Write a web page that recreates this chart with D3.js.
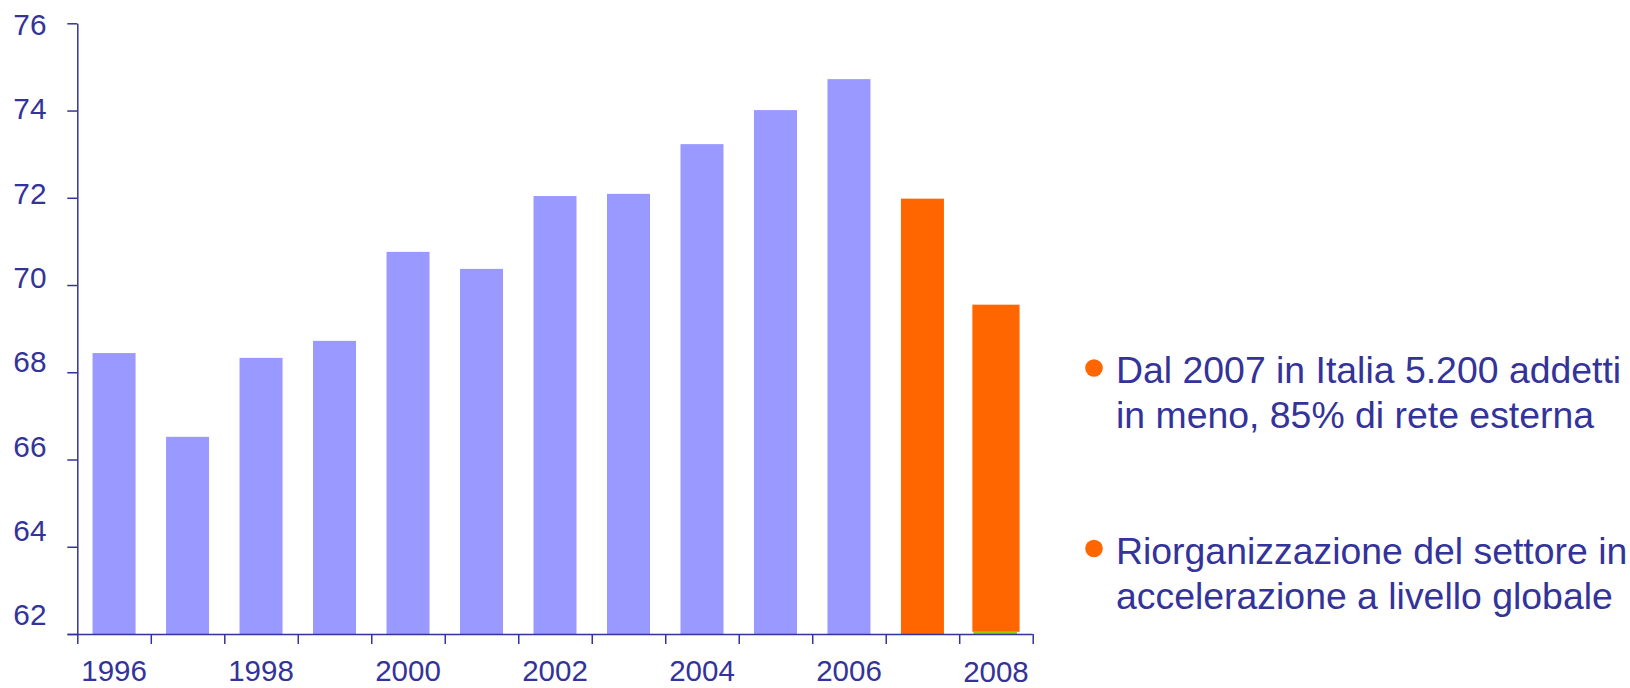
<!DOCTYPE html>
<html>
<head>
<meta charset="utf-8">
<script src="https://cdn.jsdelivr.net/npm/d3@7"></script>
<style>
  html, body { margin: 0; padding: 0; background: #ffffff; }
  svg { display: block; font-family: "Liberation Sans", Arial, sans-serif; }
</style>
</head>
<body>
<svg id="chart" width="1630" height="688"></svg>
<script>
// Yearly index values (thousands of workers)
const years = [1996, 1997, 1998, 1999, 2000, 2001, 2002, 2003, 2004, 2005, 2006, 2007, 2008];
const historic = [68.44, 66.52, 68.33, 68.72, 70.76, 70.37, 72.04, 72.09, 73.23, 74.01, 74.72, null, null];
const recent = [null, null, null, null, null, null, null, null, null, null, null, 71.98, 69.55];
const baseSliver = [null, null, null, null, null, null, null, null, null, null, null, null, 0.05];
const yTicks = [62, 64, 66, 68, 70, 72, 74, 76];
const xLabelYears = [1996, 1998, 2000, 2002, 2004, 2006, 2008];
const notes = [
  ["Dal 2007 in Italia 5.200 addetti", "in meno, 85% di rete esterna"],
  ["Riorganizzazione del settore in", "accelerazione a livello globale"]
];

const ink = "#333399";
const fontStack = "'Liberation Sans', Arial, sans-serif";
const svg = d3.select("#chart");

const plotLeft = 77.3, plotRight = 1032.7, plotTop = 23.3, plotBottom = 634;

const x = d3.scaleBand().domain(years).range([plotLeft, plotRight])
  .paddingInner(0.415).paddingOuter(0.2075);
const edges = d3.scaleLinear().domain([0, years.length]).range([plotLeft, plotRight]);
const y = d3.scaleLinear().domain([62, 76]).range([plotBottom, plotTop]);
// tick labels sit on a slightly tighter scale than the tick marks
const yLabel = d3.scaleLinear().domain([62, 76]).range([614.5, 23.8]);

// bars
const bars = svg.append("g");
bars.selectAll("rect.hist")
  .data(years.map((yr, i) => ({ yr, v: historic[i] })).filter(d => d.v != null))
  .join("rect")
  .attr("class", "hist")
  .attr("x", d => x(d.yr))
  .attr("width", x.bandwidth())
  .attr("y", d => y(d.v))
  .attr("height", d => y(62) - y(d.v))
  .attr("fill", "#9999FF");

const recentData = years.map((yr, i) => ({ yr, v: recent[i], s: baseSliver[i] || 0 })).filter(d => d.v != null);
bars.selectAll("rect.recent")
  .data(recentData)
  .join("rect")
  .attr("class", "recent")
  .attr("x", d => d.s ? x(d.yr) + x.bandwidth() / 2 - 23.6 : x(d.yr))
  .attr("width", d => d.s ? 47.2 : x.bandwidth())
  .attr("y", d => y(d.v))
  .attr("height", d => y(62 + d.s) - y(d.v))
  .attr("fill", "#FF6600");

bars.selectAll("rect.sliver")
  .data(years.map((yr, i) => ({ yr, v: baseSliver[i] })).filter(d => d.v != null))
  .join("rect")
  .attr("class", "sliver")
  .attr("x", d => x(d.yr) + x.bandwidth() / 2 - 22.5)
  .attr("width", 43.5)
  .attr("y", d => y(62 + d.v))
  .attr("height", d => y(62) - y(62 + d.v))
  .attr("fill", "#99CC00");

// y axis: tick marks
const yAxis = svg.append("g")
  .attr("transform", `translate(${plotLeft},0)`)
  .call(d3.axisLeft(y).tickValues(yTicks).tickSize(10).tickSizeOuter(0).tickFormat(""));
yAxis.selectAll("path, line").attr("stroke", ink).attr("stroke-width", 1.5);

// y axis: labels
const yLab = svg.append("g")
  .attr("transform", "translate(46.5,0)")
  .call(d3.axisLeft(yLabel).tickValues(yTicks).tickSize(0).tickPadding(0).tickFormat(d3.format("d")));
yLab.select(".domain").remove();
yLab.selectAll("text")
  .attr("fill", ink).attr("font-size", 29.8)
  .attr("font-family", fontStack)
  .attr("dy", "0.35em").attr("x", 0);

// x axis: tick marks between categories
const xAxis = svg.append("g")
  .attr("transform", `translate(0,${plotBottom})`)
  .call(d3.axisBottom(edges).tickValues(d3.range(years.length + 1)).tickSize(10).tickSizeOuter(0).tickFormat(""));
xAxis.select(".domain").attr("d", `M${plotLeft - 9.6},0.5H${plotRight}`);
xAxis.selectAll("path, line").attr("stroke", ink).attr("stroke-width", 1.5);

// x axis: year labels
const xLab = svg.append("g")
  .attr("transform", `translate(0,${plotBottom})`)
  .call(d3.axisBottom(x).tickValues(xLabelYears).tickSize(0).tickPadding(0));
xLab.select(".domain").remove();
xLab.selectAll("text")
  .attr("fill", ink).attr("font-size", 29.5)
  .attr("font-family", fontStack)
  .attr("dy", null)
  .attr("y", d => d === 2008 ? 47.6 : 47);

// side notes
const noteTop = [383, 563.5];
const noteG = svg.append("g");
notes.forEach((lines, k) => {
  noteG.append("circle")
    .attr("cx", 1094).attr("cy", noteTop[k] - 15)
    .attr("r", 8.8).attr("fill", "#FF6600");
  const t = noteG.append("text")
    .attr("x", 1116).attr("y", noteTop[k])
    .attr("fill", ink).attr("font-size", 37.4)
    .attr("font-family", fontStack);
  lines.forEach((ln, j) => {
    t.append("tspan").attr("x", 1116).attr("y", noteTop[k] + j * 45).text(ln);
  });
});
</script>
</body>
</html>
